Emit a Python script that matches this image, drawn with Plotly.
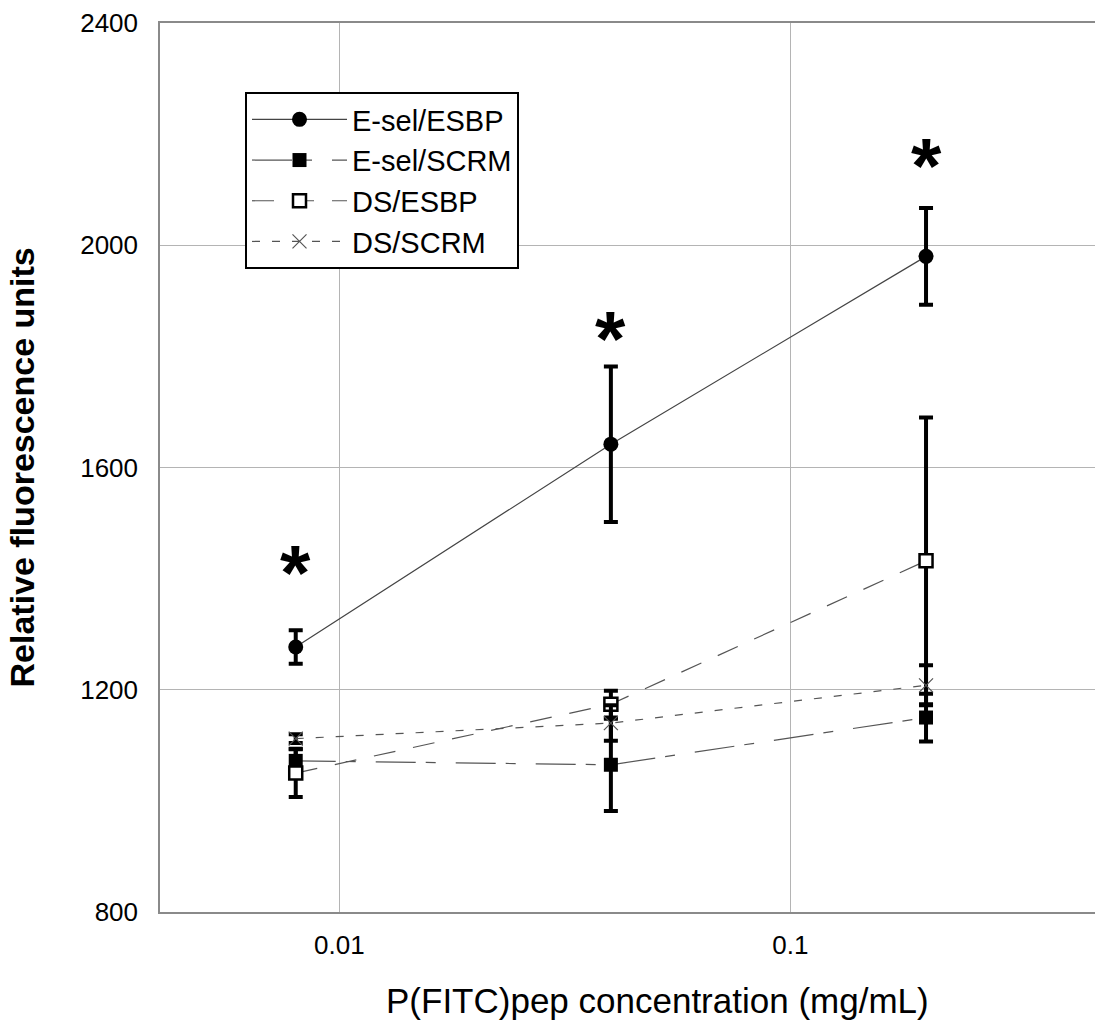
import math
import plotly.graph_objects as go

# ---- data ----
conc = [0.008, 0.04, 0.2]
esel_esbp = [1277, 1642, 1980]
esel_esbp_err = [30, 140, 87]
esel_scrm = [1072, 1065, 1150]
esel_scrm_err = [22, 83, 43]
ds_esbp = [1050, 1174, 1432]
ds_esbp_err = [43, 24, 258]
ds_scrm = [1112, 1140, 1208]
ds_scrm_err = [8, 32, 36]
star_y = [1430, 1851, 2162]
x_ticks = [0.01, 0.1]
x_tick_text = ["0.01", "0.1"]
y_ticks = [800, 1200, 1600, 2000, 2400]

FONT = "Liberation Sans, Arial, sans-serif"

fig = go.Figure()

def err(v):
    return dict(type="data", array=v, visible=True, color="black", thickness=4, width=7)

fig.add_trace(go.Scatter(
    x=conc, y=esel_esbp, name="E-sel/ESBP", mode="lines+markers",
    line=dict(color="#444444", width=1.2),
    marker=dict(symbol="circle", size=15, color="black"),
    error_y=err(esel_esbp_err)))
fig.add_trace(go.Scatter(
    x=conc, y=esel_scrm, name="E-sel/SCRM", mode="lines+markers",
    line=dict(color="#555555", width=1.2, dash="40px,10px,10px,20px"),
    marker=dict(symbol="square", size=14, color="black"),
    error_y=err(esel_scrm_err)))
fig.add_trace(go.Scatter(
    x=conc, y=ds_esbp, name="DS/ESBP", mode="lines+markers",
    line=dict(color="#555555", width=1.2, dash="22px,18px"),
    marker=dict(symbol="square", size=13, color="white", line=dict(color="black", width=2.5)),
    error_y=err(ds_esbp_err)))
fig.add_trace(go.Scatter(
    x=conc, y=ds_scrm, name="DS/SCRM", mode="lines+markers",
    line=dict(color="#555555", width=1.2, dash="8px,12px"),
    marker=dict(symbol="x-thin", size=14, color="#555555", line=dict(color="#555555", width=1.2)),
    error_y=err(ds_scrm_err)))

for xv, yv in zip(conc, star_y):
    fig.add_annotation(x=math.log10(xv), y=yv, xref="x", yref="y", text="<b>*</b>",
                       showarrow=False, yanchor="middle", yshift=-11,
                       font=dict(family=FONT, size=78, color="black"))

fig.add_annotation(x=(657 - 160) / 935, y=-0.099, xref="paper", yref="paper",
                   text="P(FITC)pep concentration (mg/mL)", showarrow=False,
                   xanchor="center", yanchor="middle",
                   font=dict(family=FONT, size=35, color="black"))
fig.add_annotation(x=(21 - 160) / 935, y=0.5, xref="paper", yref="paper",
                   text="<b>Relative fluorescence units</b>", showarrow=False, textangle=-90,
                   xanchor="center", yanchor="middle",
                   font=dict(family=FONT, size=34, color="black"))

fig.update_layout(
    width=1095, height=1028,
    margin=dict(l=160, r=0, t=23, b=116),
    paper_bgcolor="white", plot_bgcolor="white",
    font=dict(family=FONT, color="black"),
    showlegend=True,
    legend=dict(x=(245 - 160) / 935, y=(912 - 92) / 889, xanchor="left", yanchor="top",
                bgcolor="white", bordercolor="black", borderwidth=2,
                font=dict(family=FONT, size=29, color="black"),
                itemwidth=95, tracegroupgap=0),
    xaxis=dict(type="log", range=[math.log10(0.004), math.log10(0.474)],
               tickvals=x_ticks, ticktext=x_tick_text, tickfont=dict(size=26),
               showgrid=True, gridcolor="#b4b4b4", gridwidth=1,
               showline=True, linecolor="#8a8a8a", linewidth=1.5, mirror=True,
               ticks="", zeroline=False, ticklabelstandoff=9),
    yaxis=dict(range=[800, 2400], tickvals=y_ticks, tickfont=dict(size=26),
               showgrid=True, gridcolor="#b4b4b4", gridwidth=1,
               showline=True, linecolor="#8a8a8a", linewidth=1.5, mirror=False,
               ticks="", zeroline=False, ticklabelstandoff=15),
)

fig.write_html("out.html", config={"displayModeBar": False},
               post_script="document.body.style.margin='0';document.body.style.overflow='hidden';")
